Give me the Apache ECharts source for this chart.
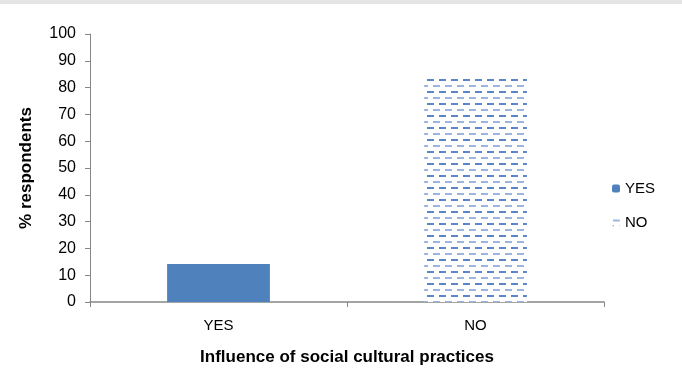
<!DOCTYPE html>
<html>
<head>
<meta charset="utf-8">
<script src="https://cdn.jsdelivr.net/npm/echarts@6/dist/echarts.min.js"></script>
<style>
	html, body { margin: 0; padding: 0; background: #fff; }
	#chart { width: 682px; height: 372px; }
</style>
</head>
<body>
<div id="chart"></div>
<script>
var categories = [ "YES", "NO" ];
var yesValues = [ 14.2, null ];
var noValues = [ null, 84.2 ];
var yTicks = [ 0, 10, 20, 30, 40, 50, 60, 70, 80, 90, 100 ];

(function() {
	// dashed fill for the NO bar
	var makePattern = function() {
		var c = document.createElement('canvas');
		c.width = 12;
		c.height = 12;
		var ctx = c.getContext('2d');
		ctx.fillStyle = '#fff';
		ctx.fillRect(0, 0, 12, 12);
		ctx.fillStyle = '#9db7dc';
		ctx.fillRect(1, 1, 7, 2);
		ctx.fillStyle = '#5b88c4';
		ctx.fillRect(7, 7, 5, 2);
		ctx.fillRect(0, 7, 2, 2);
		return c;
	};
	var pattern = { image: makePattern(), repeat: 'repeat' };

	var font = 'Liberation Sans';
	var chart = echarts.init(document.getElementById('chart'));
	var option = {
		animation : false,
		textStyle : { fontFamily : font },
		graphic : [ {
			type : 'rect',
			shape : { x : 0, y : 0, width : 682, height : 4 },
			style : { fill : '#e5e5e5' }
		} ],
		grid : { left : 90, right : 78, top : 34, bottom : 70, outerBoundsMode : 'none' },
		legend : {
			orient : 'vertical',
			left : 607,
			top : 176,
			itemWidth : 8,
			itemHeight : 8,
			itemGap : 19,
			textStyle : { fontSize : 15, color : '#000', fontFamily : font },
			data : [ 'YES', 'NO' ]
		},
		xAxis : {
			type : 'category',
			data : categories,
			name : 'Influence of social cultural practices',
			nameLocation : 'middle',
			nameGap : 47,
			nameTextStyle : { fontSize : 17, fontWeight : 'bold', color : '#000' },
			axisLine : { lineStyle : { color : '#868686', width : 1.5 } },
			axisTick : { show : true, length : 5, lineStyle : { color : '#868686' } },
			axisLabel : { fontSize : 15, color : '#000', margin : 16 }
		},
		yAxis : {
			type : 'value',
			min : yTicks[0],
			max : yTicks[yTicks.length - 1],
			interval : 10,
			name : '% respondents',
			nameLocation : 'middle',
			nameGap : 55,
			nameTextStyle : { fontSize : 17, fontWeight : 'bold', color : '#000' },
			axisLine : { show : true, lineStyle : { color : '#868686' } },
			axisTick : { show : true, length : 5, lineStyle : { color : '#868686' } },
			axisLabel : { fontSize : 16, color : '#000', margin : 14 },
			splitLine : { show : false }
		},
		series : [ {
			name : 'YES',
			type : 'bar',
			stack : 'all',
			barWidth : '40%',
			data : yesValues,
			itemStyle : { color : '#4f81bd' }
		}, {
			name : 'NO',
			type : 'bar',
			stack : 'all',
			barWidth : '40%',
			data : noValues,
			itemStyle : { color : pattern }
		} ]
	};
	chart.setOption(option);
})();
</script>
</body>
</html>
